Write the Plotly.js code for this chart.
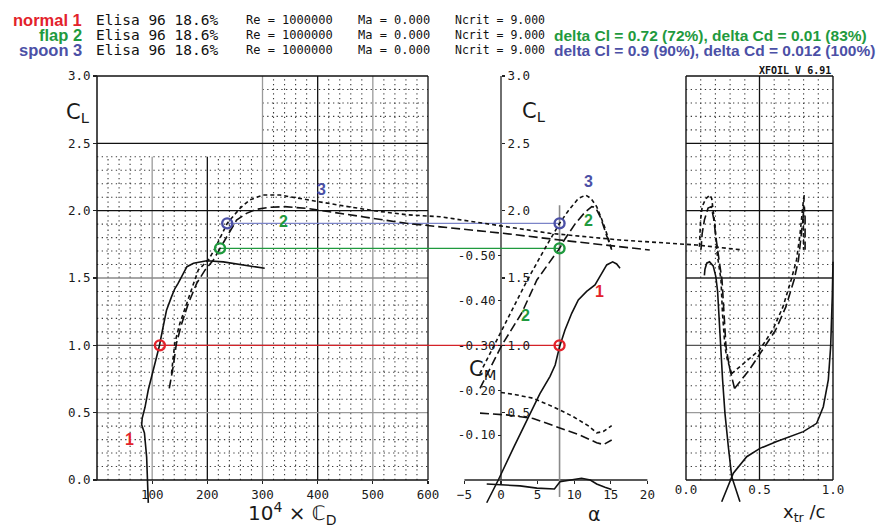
<!DOCTYPE html>
<html><head><meta charset="utf-8">
<script src="https://cdn.plot.ly/plotly-3.0.1.min.js"></script>
<style>html,body{margin:0;padding:0;background:#fff}#chart{width:878px;height:528px}</style>
</head><body><div id="chart"></div>
<script>
// ---------------- DATA ----------------
// CL vs 10^4*CD polar
const normalCD = [93, 92, 90, 86, 81, 82, 87, 93, 99, 105, 113, 120, 126, 135, 141, 147, 156, 163, 175, 199, 229, 265, 304];
const normalCL = [-0.17, 0, 0.17, 0.35, 0.41, 0.46, 0.54, 0.67, 0.77, 0.87, 0.995, 1.14, 1.26, 1.36, 1.42, 1.46, 1.535, 1.584, 1.609, 1.628, 1.62, 1.597, 1.572];
const flapCD = [131, 138, 144, 153.5, 165.5, 180.7, 196, 211, 223, 238, 253, 271, 289, 314, 340, 380, 440, 501, 561, 622, 736, 839, 1002];
const flapCL = [0.68, 0.84, 1.015, 1.16, 1.31, 1.46, 1.56, 1.634, 1.72, 1.83, 1.93, 1.98, 2.01, 2.025, 2.03, 2.017, 1.98, 1.943, 1.906, 1.88, 1.832, 1.782, 1.708];
const spoonCD = [135, 141, 150, 162.5, 174.5, 183.6, 202, 214, 236, 259, 277, 301, 332, 380, 440, 501, 561, 622, 821, 948, 1087, 1171];
const spoonCL = [0.79, 1.015, 1.16, 1.31, 1.46, 1.56, 1.634, 1.72, 1.906, 2.017, 2.08, 2.116, 2.116, 2.08, 2.04, 2.0, 1.97, 1.955, 1.832, 1.782, 1.745, 1.708];

// CL vs alpha
const normalAlpha = [-1.95, -0.37, 1.8, 3.96, 5.3, 6.7, 7.4, 8.0, 8.74, 9.66, 10.56, 11.7, 12.84, 13.5, 14.44, 15.25, 15.8, 16.26];
const normalCLa = [-0.169, 0, 0.25, 0.495, 0.64, 0.77, 0.854, 0.99, 1.114, 1.238, 1.337, 1.40, 1.448, 1.51, 1.597, 1.62, 1.604, 1.572];
const flapAlpha = [-2.87, 0.1, 2.83, 4.9, 6.5, 8.0, 8.74, 10.1, 11.5, 12.4, 12.9, 13.6, 14.4, 15.12];
const flapCLa = [0.68, 1.0, 1.24, 1.485, 1.607, 1.72, 1.79, 1.90, 1.99, 2.03, 2.025, 1.95, 1.82, 1.71];
const spoonAlpha = [-2.9, -0.96, 1.37, 3.6, 5.8, 8.0, 9.2, 10.56, 11.57, 12.3, 13.07, 13.98, 14.66, 15.12];
const spoonCLa = [0.79, 1.0, 1.24, 1.485, 1.70, 1.906, 2.0, 2.09, 2.116, 2.09, 2.03, 1.906, 1.795, 1.71];

// CM vs alpha
const normalCmAlpha = [-1.95, 2.6, 4.9, 6.9, 7.3, 8.06, 9.9, 11.0, 12.2, 13.07, 14.2, 15.1];
const normalCm = [0.009, 0.013, 0.018, 0.021, 0.020, 0.004, -0.002, -0.004, 0.0, 0.009, 0.016, 0.021];
const flapCmAlpha = [-2.87, 0.78, 4.4, 7.6, 10.8, 13.07, 14.0, 15.12];
const flapCm = [-0.149, -0.145, -0.137, -0.119, -0.100, -0.083, -0.079, -0.089];
const spoonCmAlpha = [0.0, 2.0, 4.4, 7.15, 9.88, 12.0, 13.07, 13.98, 15.12];
const spoonCm = [-0.195, -0.19, -0.182, -0.163, -0.141, -0.12, -0.105, -0.108, -0.121];

// transition location x_tr/c vs CL (top and bottom surface)
const normalTopX = [0.367, 0.311, 0.288, 0.265, 0.249, 0.231, 0.215, 0.203, 0.185, 0.160, 0.141, 0.129, 0.125];
const normalTopCL = [-0.161, 0.025, 0.247, 0.495, 0.743, 1.114, 1.40, 1.51, 1.59, 1.62, 1.61, 1.565, 1.52];
const normalBotX = [0.243, 0.322, 0.413, 0.503, 0.617, 0.798, 0.889, 0.934, 0.968, 0.984, 0.995, 1.0, 1.0];
const normalBotCL = [-0.161, 0.05, 0.173, 0.235, 0.285, 0.359, 0.421, 0.544, 0.743, 0.99, 1.36, 1.5, 1.62];
const flapTopX = [0.33, 0.295, 0.272, 0.256, 0.245, 0.228, 0.212, 0.200, 0.190, 0.182, 0.172, 0.150, 0.125, 0.110, 0.102];
const flapTopCL = [0.68, 0.84, 0.99, 1.24, 1.485, 1.61, 1.72, 1.83, 1.93, 1.99, 2.03, 2.02, 1.93, 1.83, 1.71];
const spoonTopX = [0.31, 0.28, 0.265, 0.248, 0.238, 0.212, 0.198, 0.185, 0.175, 0.163, 0.135, 0.110, 0.099, 0.095, 0.091];
const spoonTopCL = [0.79, 0.90, 0.99, 1.24, 1.485, 1.68, 1.88, 2.03, 2.09, 2.116, 2.09, 2.03, 1.93, 1.83, 1.71];
const flapBotX = [0.33, 0.43, 0.52, 0.61, 0.68, 0.735, 0.765, 0.785, 0.795, 0.80, 0.805, 0.81, 0.812, 0.81];
const flapBotCL = [0.68, 0.817, 0.965, 1.114, 1.287, 1.485, 1.634, 1.83, 1.93, 1.99, 2.03, 1.95, 1.83, 1.71];
const spoonBotX = [0.31, 0.40, 0.50, 0.59, 0.66, 0.715, 0.752, 0.776, 0.79, 0.80, 0.805, 0.80, 0.798, 0.80, 0.80];
const spoonBotCL = [0.79, 0.87, 0.965, 1.114, 1.287, 1.485, 1.634, 1.83, 2.0, 2.09, 2.116, 2.05, 1.93, 1.83, 1.71];

// operating points (alpha = 8 deg)
const markerNames = ['normal', 'flap', 'spoon'];
const markerCL = [1.0, 1.72, 1.906];
const markerCD = [114, 223, 236];
const markerAlpha = 8;

// tick labels
const cdTicks = [100, 200, 300, 400, 500, 600];
const clTicks = [0, 0.5, 1.0, 1.5, 2.0, 2.5, 3.0];
const clTickText = ['0.0', '0.5', '1.0', '1.5', '2.0', '2.5', '3.0'];
const alphaTicks = [-5, 0, 5, 10, 15, 20];
const cmTicks = [-0.5, -0.4, -0.3, -0.2, -0.1];
const cmTickText = ['-0.50', '-0.40', '-0.30', '-0.20', '-0.10'];
const xtrTicks = [0, 0.5, 1.0];
const xtrTickText = ['0.0', '0.5', '1.0'];

// ---------------- LAYOUT GEOMETRY ----------------
const W = 878, H = 528;
const G = {cd0: 97, cdS: 331 / 600, base: 480, clS: 404 / 3, a0: 501, aS: 7.32, cmS: 449, x0: 686, xS: 147};
const cdRange = [-G.cd0 / G.cdS, (W - G.cd0) / G.cdS];
const clRange = [-(H - G.base) / G.clS, G.base / G.clS];
const aRange = [-G.a0 / G.aS, (W - G.a0) / G.aS];
const cmRange = [(H - G.base) / G.cmS, -G.base / G.cmS];
const xtrRange = [-G.x0 / G.xS, (W - G.x0) / G.xS];
const axisPosY = (H - G.base) / H;
const P = x => x / W, Q = y => 1 - y / H;
function alphaToCD(a) { const p = (a - aRange[0]) / (aRange[1] - aRange[0]); return cdRange[0] + p * (cdRange[1] - cdRange[0]); }

const RED = '#e3222b', GREEN = '#1f9a3e', BLUE = '#4b50a6';
const tickFont = {family: 'DejaVu Sans Mono, monospace', size: 12.5, color: '#1a1a1a'};

// ---------------- GRID (shapes) ----------------
const shapes = [];
function seg(xref, x0, y0, x1, y1, color, width, dash, yref) {
  shapes.push({type: 'line', xref: xref, yref: yref || 'y', x0: x0, y0: y0, x1: x1, y1: y1, layer: 'below',
    line: {color: color, width: width, dash: dash || 'solid'}});
}
const DOT = '1.3px,3.4px', DOTC = '#3a3a3a';
// left panel dotted grid
for (let i = 1; i < 30; i++) { if (i % 5 === 0) continue; const cd = i * 20; seg('x', cd, 0, cd, cd < 300 ? 2.4 : 3.0, DOTC, 1.1, DOT); }
for (let j = 1; j < 30; j++) { if (j % 5 === 0) continue; const cl = j / 10; seg('x', cl > 2.45 ? 300 : 0, cl, 600, cl, DOTC, 1.1, DOT); }
[[100, 2.4, '#9a9a9a'], [200, 2.4, '#111'], [300, 3, '#9a9a9a'], [400, 3, '#111'], [500, 3, '#9a9a9a']]
  .forEach(v => seg('x', v[0], 0, v[0], v[1], v[2], 1.3));
[[0.5, '#9a9a9a'], [1.0, '#555'], [1.5, '#8a8a8a'], [2.0, '#111'], [2.5, '#111']]
  .forEach(h => seg('x', 0, h[0], 600, h[0], h[1], 1.3));
seg('x', 0, 0, 0, 3, '#111', 1.5); seg('x', 600, 0, 600, 3, '#111', 1.3);
seg('x', 0, 0, 600, 0, '#111', 1.5); seg('x', 0, 3, 600, 3, '#111', 1.3);
// right panel dotted grid
for (let i = 1; i < 10; i++) { if (i === 5) continue; seg('x3', i / 10, 0, i / 10, 3, DOTC, 1.1, DOT); }
for (let j = 1; j < 30; j++) { if (j % 5 === 0) continue; seg('x3', 0, j / 10, 1, j / 10, DOTC, 1.1, DOT); }
seg('x3', 0.5, 0, 0.5, 3, '#111', 1.3);
[[0.5, '#9a9a9a'], [1.0, '#555'], [1.5, '#222'], [2.0, '#111'], [2.5, '#111']]
  .forEach(h => seg('x3', 0, h[0], 1, h[0], h[1], 1.3));
seg('x3', 0, 0, 0, 3, '#111', 1.4); seg('x3', 1, 0, 1, 3, '#111', 1.4);
seg('x3', 0, 0, 1, 0, '#111', 1.4); seg('x3', 0, 3, 1, 3, '#111', 1.4);
// middle panel axes
seg('x2', -5, 0, 20, 0, '#222', 1.3);
seg('x2', 0, 0, 0, 3, '#333', 1.4);
seg('x2', markerAlpha, -0.126, markerAlpha, 2.04, '#8a8a8a', 1.6);

// ---------------- TRACES ----------------
const traces = [];
const LONG = '9px,4px', SHORT = '4px,3px', LW = 1.6;
function line(x, y, xa, ya, dash, color, w) {
  traces.push({type: 'scatter', mode: 'lines', x: x, y: y, xaxis: xa, yaxis: ya, hoverinfo: 'skip', cliponaxis: false,
    line: {color: color || '#111', width: w || LW, dash: dash || 'solid'}});
}
// connectors from polar point to alpha = 8 point
const connColors = ['#d42228', GREEN, '#7b84c8'];
markerCL.forEach((cl, i) => line([markerCD[i], alphaToCD(markerAlpha)], [cl, cl], 'x', 'y', 'solid', connColors[i], 1.2));
// polar
line(normalCD, normalCL, 'x', 'y');
line(flapCD, flapCL, 'x', 'y', LONG);
line(spoonCD, spoonCL, 'x', 'y', SHORT);
// CL-alpha
line(normalAlpha, normalCLa, 'x2', 'y');
line(flapAlpha, flapCLa, 'x2', 'y', LONG);
line(spoonAlpha, spoonCLa, 'x2', 'y', SHORT);
// CM-alpha
line(normalCmAlpha, normalCm, 'x2', 'y2');
line(flapCmAlpha, flapCm, 'x2', 'y2', LONG);
line(spoonCmAlpha, spoonCm, 'x2', 'y2', SHORT);
// transition
line(normalTopX, normalTopCL, 'x3', 'y');
line(normalBotX, normalBotCL, 'x3', 'y');
line(flapTopX, flapTopCL, 'x3', 'y', LONG);
line(flapBotX, flapBotCL, 'x3', 'y', LONG);
line(spoonTopX, spoonTopCL, 'x3', 'y', SHORT);
line(spoonBotX, spoonBotCL, 'x3', 'y', SHORT);
// markers
const mColors = [RED, GREEN, BLUE];
traces.push({type: 'scatter', mode: 'markers', x: markerCD, y: markerCL, xaxis: 'x', yaxis: 'y', hoverinfo: 'skip', cliponaxis: false,
  marker: {symbol: 'circle-open', size: 10, color: mColors, line: {width: 2.4, color: mColors}}});
traces.push({type: 'scatter', mode: 'markers', x: markerCL.map(() => markerAlpha), y: markerCL, xaxis: 'x2', yaxis: 'y', hoverinfo: 'skip', cliponaxis: false,
  marker: {symbol: 'circle-open', size: 10, color: mColors, line: {width: 2.4, color: mColors}}});
traces.push({type: 'scatter', mode: 'lines', x: [], y: [], xaxis: 'x2', yaxis: 'y3', hoverinfo: 'skip'});

// ---------------- ANNOTATIONS ----------------
const ann = [];
function txt(text, x, y, opts) {
  ann.push(Object.assign({text: text, x: x, y: y, xref: 'paper', yref: 'paper', showarrow: false, xanchor: 'left', yanchor: 'middle'}, opts));
}
const mono = 'DejaVu Sans Mono, monospace';
const sans = 'Liberation Sans, Arial, sans-serif';
const hdr = [['normal 1', RED, 20], ['flap 2', GREEN, 35], ['spoon 3', BLUE, 50]];
hdr.forEach(h => {
  txt('<b>' + h[0] + '</b>', P(84), Q(h[2]), {xanchor: 'right', font: {family: sans, size: 16.5, color: h[1]}});
  txt('Elisa 96 18.6%', P(94), Q(h[2]), {font: {family: mono, size: 14.5, color: '#111'}});
  txt('Re = 1000000', P(244), Q(h[2]), {font: {family: mono, size: 12, color: '#111'}});
  txt('Ma = 0.000', P(356), Q(h[2]), {font: {family: mono, size: 12, color: '#111'}});
  txt('Ncrit = 9.000', P(453), Q(h[2]), {font: {family: mono, size: 11.5, color: '#111'}});
});
txt('<b>delta Cl = 0.72 (72%), delta Cd = 0.01 (83%)</b>', P(552), Q(35), {font: {family: sans, size: 15.5, color: GREEN}});
txt('<b>delta Cl = 0.9 (90%), delta Cd = 0.012 (100%)</b>', P(552), Q(50), {font: {family: sans, size: 15.5, color: BLUE}});
txt('<b>XFOIL V 6.91</b>', P(757), Q(70.5), {font: {family: mono, size: 10, color: '#111'}});
// axis titles
const tfont = {family: 'DejaVu Sans, sans-serif', size: 21, color: '#1a1a1a'};
txt('C<sub>L</sub>', P(64), Q(113), {font: tfont});
txt('C<sub>L</sub>', P(520), Q(112), {font: tfont});
txt('C<sub>M</sub>', P(467), Q(370), {font: tfont});
txt('α', P(594), Q(514), {xanchor: 'center', font: {family: 'DejaVu Sans, sans-serif', size: 19, color: '#1a1a1a'}});
txt('10<sup>4</sup> × ℂ<sub>D</sub>', P(292), Q(513), {xanchor: 'center', font: {family: 'DejaVu Sans, sans-serif', size: 20, color: '#1a1a1a'}});
txt('x<sub>tr</sub> /c', P(804), Q(513), {xanchor: 'center', font: {family: 'DejaVu Sans, sans-serif', size: 18, color: '#1a1a1a'}});
// curve labels
function lab(t, x, y, xref, color) {
  ann.push({text: '<b>' + t + '</b>', x: x, y: y, xref: xref, yref: 'y', showarrow: false, font: {family: sans, size: 16, color: color}});
}
lab('1', 58.5, 0.30, 'x', RED);
lab('2', 338, 1.923, 'x', GREEN);
lab('3', 407, 2.159, 'x', BLUE);
lab('3', 12.0, 2.215, 'x2', BLUE);
lab('2', 12.0, 1.925, 'x2', GREEN);
lab('1', 13.5, 1.40, 'x2', RED);
lab('2', 3.4, 1.225, 'x2', GREEN);

// ---------------- AXES ----------------
const base = {domain: [0, 1], showgrid: false, zeroline: false, showline: false, fixedrange: true, tickfont: tickFont,
  tickmode: 'array', tickcolor: '#222', tickwidth: 1.2, anchor: 'free'};
const layout = {
  width: W, height: H, margin: {l: 0, r: 0, t: 0, b: 0, pad: 0}, paper_bgcolor: '#fff', plot_bgcolor: 'rgba(0,0,0,0)', showlegend: false,
  xaxis: Object.assign({}, base, {range: cdRange, position: axisPosY, tickvals: cdTicks, ticks: 'outside', ticklen: 3}),
  yaxis: Object.assign({}, base, {range: clRange, position: P(G.cd0), tickvals: clTicks, ticktext: clTickText, ticks: 'outside', ticklen: 4, side: 'left'}),
  xaxis2: Object.assign({}, base, {overlaying: 'x', range: aRange, position: axisPosY, tickvals: alphaTicks, ticks: 'outside', ticklen: 3}),
  yaxis2: Object.assign({}, base, {overlaying: 'y', range: cmRange, position: P(G.a0), side: 'left', tickvals: cmTicks, ticktext: cmTickText, ticks: 'outside', ticklen: 3}),
  yaxis3: Object.assign({}, base, {overlaying: 'y', range: clRange, position: P(G.a0), side: 'right', tickvals: clTicks.slice(1), ticktext: clTickText.slice(1), ticks: 'outside', ticklen: 3}),
  xaxis3: Object.assign({}, base, {overlaying: 'x', range: xtrRange, position: axisPosY, tickvals: xtrTicks, ticktext: xtrTickText, ticks: ''}),
  shapes: shapes, annotations: ann
};
Plotly.newPlot('chart', traces, layout, {staticPlot: true, displayModeBar: false});
</script>
</body></html>
